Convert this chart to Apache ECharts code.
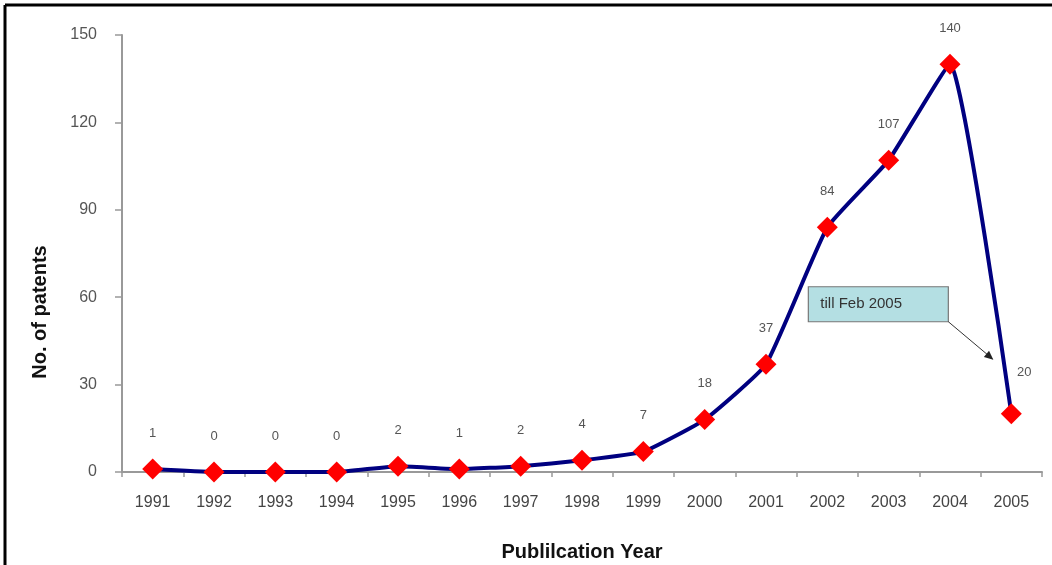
<!DOCTYPE html>
<html>
<head>
<meta charset="utf-8">
<script src="https://cdn.jsdelivr.net/npm/echarts@6/dist/echarts.min.js"></script>
<style>
html,body{margin:0;padding:0;background:#fff;}
#chart{width:1052px;height:565px;}
</style>
</head>
<body>
<div id="chart"></div>
<script>
var years = ['1991','1992','1993','1994','1995','1996','1997','1998','1999','2000','2001','2002','2003','2004','2005'];
var patents = [1,0,0,0,2,1,2,4,7,18,37,84,107,140,20];
var yTicks = [0,30,60,90,120,150];
var xTitle = 'Publilcation Year';
var yTitle = 'No. of patents';
var noteText = 'till Feb 2005';

var chart = echarts.init(document.getElementById('chart'));
var lastIdx = patents.length - 1;
var seriesData = patents.map(function (v, i) {
  if (i === lastIdx) {
    return { value: v, label: { position: 'top', offset: [13, -5] } };
  }
  return v;
});

var option = {
  animation: false,
  grid: { left: 122, right: 10, top: 35, bottom: 93, containLabel: false, outerBoundsMode: 'none' },
  xAxis: {
    type: 'category',
    data: years,
    boundaryGap: true,
    name: xTitle,
    nameLocation: 'middle',
    nameGap: 70,
    nameTextStyle: { fontFamily: 'Liberation Sans', fontSize: 20, fontWeight: 'bold', color: '#111' },
    axisLine: { lineStyle: { color: '#999', width: 2 } },
    axisTick: { show: true, alignWithLabel: false, length: 5, lineStyle: { color: '#999', width: 1.5 } },
    axisLabel: { margin: 23, fontFamily: 'Liberation Sans', fontSize: 16, color: '#444' },
    splitLine: { show: false }
  },
  yAxis: {
    type: 'value',
    min: yTicks[0],
    max: yTicks[yTicks.length - 1],
    interval: 30,
    axisLine: { show: true, lineStyle: { color: '#999', width: 2 } },
    axisTick: { show: true, length: 7, lineStyle: { color: '#999', width: 1.5 } },
    axisLabel: { margin: 25, fontFamily: 'Liberation Sans', fontSize: 16, color: '#555' },
    splitLine: { show: false }
  },
  series: [{
    type: 'line',
    data: seriesData,
    smooth: 0.13,
    lineStyle: { color: '#000080', width: 4 },
    itemStyle: { color: '#ff0000' },
    symbol: 'diamond',
    symbolSize: 21,
    label: {
      show: true,
      position: 'top',
      distance: 19,
      fontFamily: 'Liberation Sans',
      fontSize: 13,
      color: '#555'
    },
    z: 3
  }]
};
chart.setOption(option);

var p = chart.convertToPixel({ xAxisIndex: 0, yAxisIndex: 0 }, [lastIdx, patents[lastIdx]]);
var bx = p[0] - 203, by = p[1] - 127;
chart.setOption({
  graphic: [
    { type: 'line', shape: { x1: 5, y1: 5, x2: 1052, y2: 5 }, style: { stroke: '#000', lineWidth: 3 } },
    { type: 'line', shape: { x1: 5, y1: 5, x2: 5, y2: 565 }, style: { stroke: '#000', lineWidth: 3 } },
    {
      type: 'text', x: 40, y: 312, rotation: Math.PI / 2,
      style: { text: yTitle, fontFamily: 'Liberation Sans', fontSize: 20, fontWeight: 'bold', fill: '#111', align: 'center', verticalAlign: 'middle' }
    },
    {
      type: 'rect', shape: { x: bx, y: by, width: 140, height: 35 },
      style: { fill: '#b4dfe3', stroke: '#777', lineWidth: 1.2 }, z: 10
    },
    {
      type: 'text', x: bx + 12, y: by + 17.5,
      style: { text: noteText, fontFamily: 'Liberation Sans', fontSize: 15, fill: '#333', verticalAlign: 'middle' }, z: 11
    },
    {
      type: 'line', shape: { x1: bx + 140, y1: by + 35, x2: p[0] - 19, y2: p[1] - 55 },
      style: { stroke: '#333', lineWidth: 1 }, z: 10
    },
    {
      type: 'polygon', z: 10,
      shape: { points: (function () {
        var x1 = bx + 140, y1 = by + 35, x2 = p[0] - 18, y2 = p[1] - 54;
        var a = Math.atan2(y2 - y1, x2 - x1), L = 9, W = 4;
        var bxp = x2 - L * Math.cos(a), byp = y2 - L * Math.sin(a);
        return [[x2, y2], [bxp - W * Math.sin(a), byp + W * Math.cos(a)], [bxp + W * Math.sin(a), byp - W * Math.cos(a)]];
      })() },
      style: { fill: '#222' }
    }
  ]
});
</script>
</body>
</html>
